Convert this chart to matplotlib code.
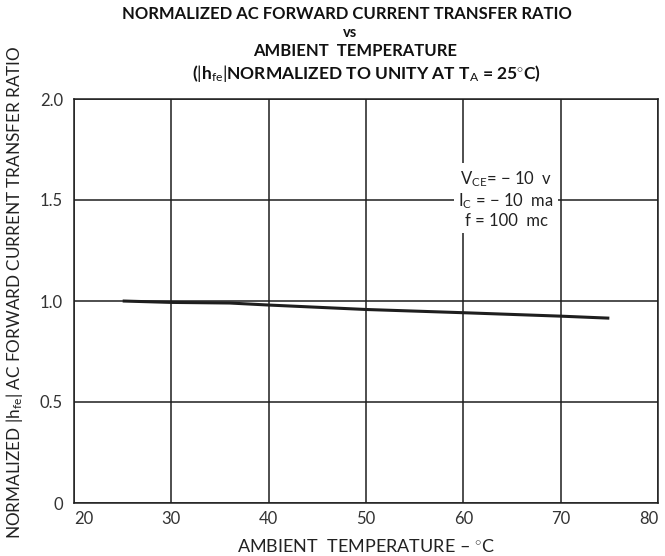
import matplotlib
matplotlib.use("Agg")
import matplotlib.pyplot as plt

plt.rcParams['font.family'] = ['Lato', 'DejaVu Sans']
plt.rcParams['mathtext.fontset'] = 'custom'
plt.rcParams['mathtext.rm'] = 'Lato'
plt.rcParams['mathtext.it'] = 'Lato'
plt.rcParams['mathtext.bf'] = 'Lato:bold'

# Data
temperature = [25, 30, 36, 40, 50, 60, 70, 75]
hfe_norm = [1.0, 0.993, 0.99, 0.98, 0.958, 0.942, 0.925, 0.915]

x_ticks = [20, 30, 40, 50, 60, 70, 80]
x_tick_labels = ["20", "30", "40", "50", "60", "70", "80"]
y_ticks = [0, 0.5, 1.0, 1.5, 2.0]
y_tick_labels = ["0", "0.5", "1.0", "1.5", "2.0"]

title_lines = [
    "NORMALIZED AC FORWARD CURRENT TRANSFER RATIO",
    "vs",
    "AMBIENT  TEMPERATURE",
    r"($|\mathbf{h}_{\mathrm{fe}}|$NORMALIZED TO UNITY AT T$_{\mathrm{A}}$ = 25$^{\circ}$C)",
]
condition_text = "V$_{\\mathrm{CE}}$= \u2212 10  v\nI$_{\\mathrm{C}}$ = \u2212 10  ma\nf = 100  mc"

ink = "#1e1e1e"

fig = plt.figure(figsize=(6.65, 5.56), dpi=100)
ax = fig.add_axes([74 / 665, 53 / 556, 584 / 665, 404 / 556])

ax.plot(temperature, hfe_norm, color=ink, lw=2.2, solid_capstyle='butt', zorder=3)

ax.set_xlim(20, 80)
ax.set_ylim(0, 2.0)
ax.set_xticks(x_ticks)
ax.set_xticklabels(x_tick_labels)
ax.set_yticks(y_ticks)
ax.set_yticklabels(y_tick_labels)
ax.grid(True, color=ink, lw=1.1)
ax.tick_params(length=0, labelsize=12, colors="#333333")
ax.tick_params(axis='x', pad=6)
ax.tick_params(axis='y', pad=8)
xl = ax.get_xticklabels()
xl[0].set_horizontalalignment('left')
xl[-1].set_horizontalalignment('right')
for s in ax.spines.values():
    s.set_color(ink)
    s.set_linewidth(1.1)

ax.text(64.4, 1.505, condition_text, ha='center', va='center', fontsize=12,
        color="#222222", linespacing=1.15, zorder=4,
        bbox=dict(facecolor='white', edgecolor='none', pad=3))

ax.set_xlabel("AMBIENT  TEMPERATURE \u2013 $^{\\circ}$C", fontsize=13, color="#222222", labelpad=8)
ax.set_ylabel(r"NORMALIZED $|\mathrm{h}_{\mathrm{fe}}|$ AC FORWARD CURRENT TRANSFER RATIO",
              fontsize=12.3, color="#222222", labelpad=8)
ax.yaxis.set_label_coords(-49 / 584, 0.522)

ys = [556 - 14, 556 - 33, 556 - 51, 556 - 73]
xs = [347, 350, 355, 366]
sizes = [12, 10.5, 12, 12.5]
for t, xx, yy, fs in zip(title_lines, xs, ys, sizes):
    fig.text(xx / 665, yy / 556, t, ha='center', va='center', fontsize=fs,
             fontweight='bold', color="#111111")

fig.savefig("out.png", dpi=100)
